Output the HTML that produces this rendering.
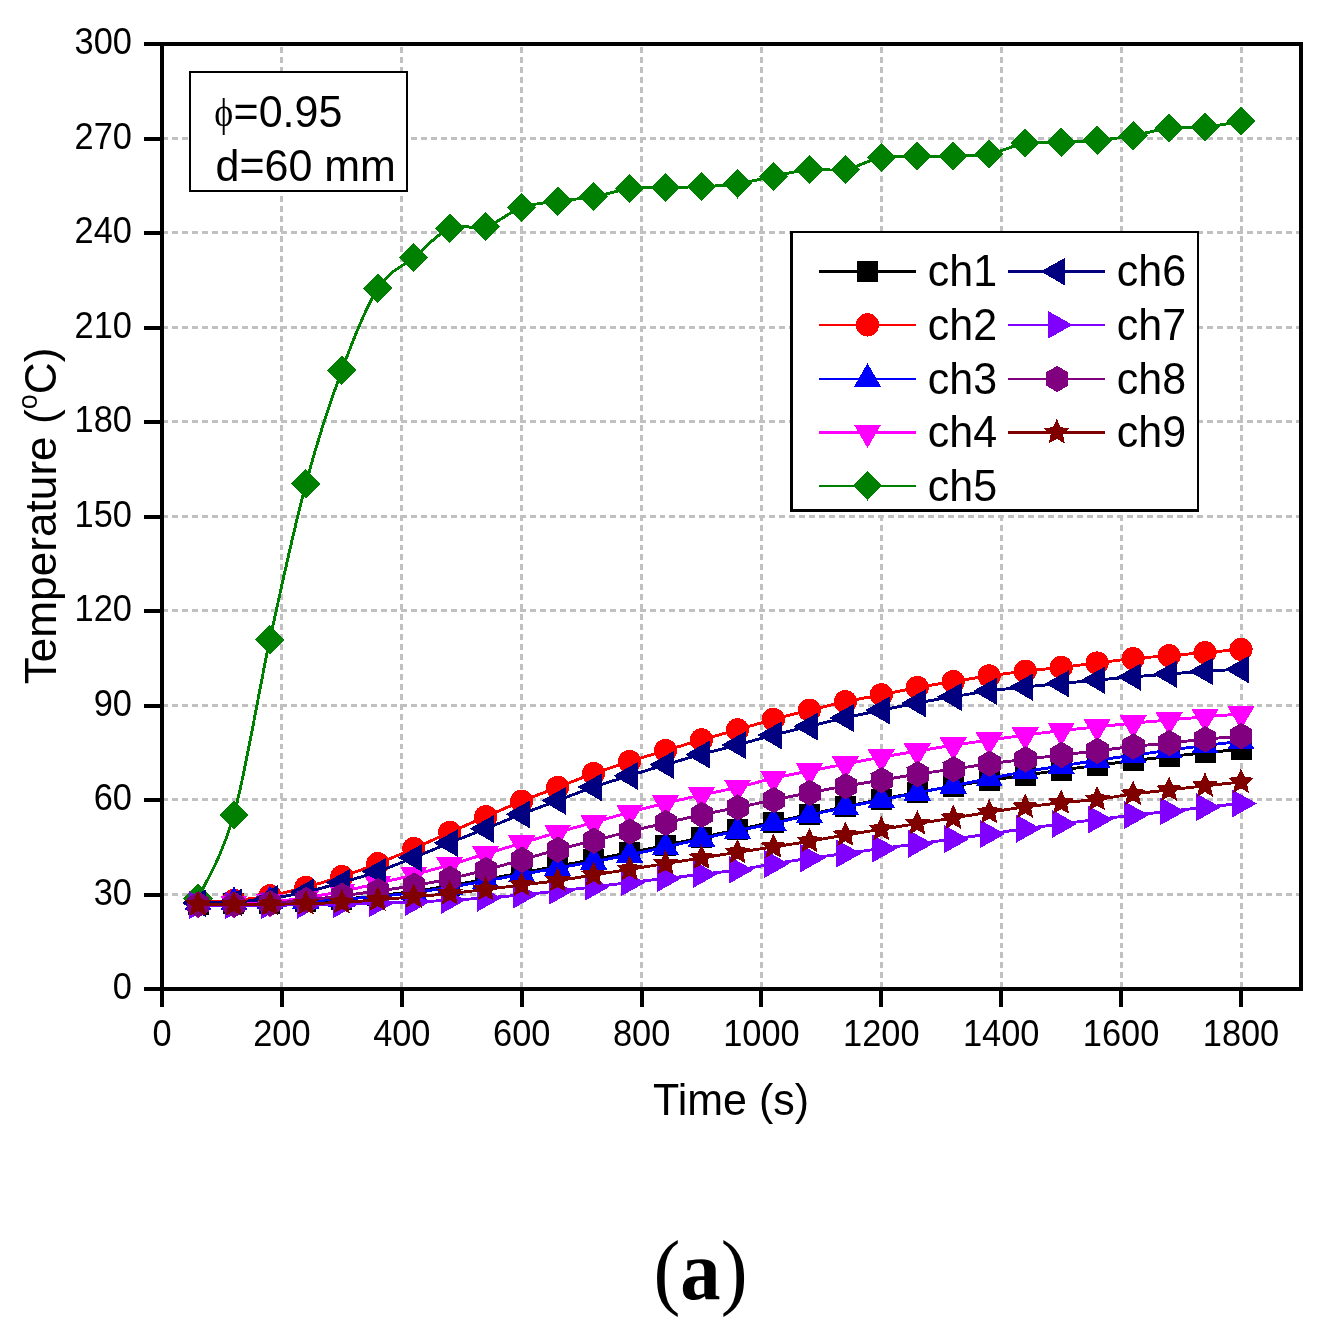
<!DOCTYPE html>
<html lang="en"><head><meta charset="utf-8"><title>Temperature vs Time (a)</title>
<style>
html,body{margin:0;padding:0;background:#fff;}
body{width:1328px;height:1332px;overflow:hidden;}
svg{display:block;will-change:transform;}
text{font-family:"Liberation Sans",Arial,Helvetica,sans-serif;fill:#000;}
.cap{font-family:"Liberation Serif","Times New Roman",serif;}
</style></head><body>
<svg width="1328" height="1332" viewBox="0 0 1328 1332">
<rect width="1328" height="1332" fill="#fff"/>
<g stroke="#c0c0c0" stroke-width="3" stroke-dasharray="5.95 4" fill="none" shape-rendering="crispEdges"><line x1="281.9" y1="989" x2="281.9" y2="44" stroke-dashoffset="-0.75"/><line x1="401.8" y1="989" x2="401.8" y2="44" stroke-dashoffset="-0.75"/><line x1="521.7" y1="989" x2="521.7" y2="44" stroke-dashoffset="-0.75"/><line x1="641.6" y1="989" x2="641.6" y2="44" stroke-dashoffset="-0.75"/><line x1="761.4" y1="989" x2="761.4" y2="44" stroke-dashoffset="-0.75"/><line x1="881.3" y1="989" x2="881.3" y2="44" stroke-dashoffset="-0.75"/><line x1="1001.2" y1="989" x2="1001.2" y2="44" stroke-dashoffset="-0.75"/><line x1="1121.1" y1="989" x2="1121.1" y2="44" stroke-dashoffset="-0.75"/><line x1="1241" y1="989" x2="1241" y2="44" stroke-dashoffset="-0.75"/><line x1="162" y1="894.5" x2="1301" y2="894.5"/><line x1="162" y1="799.5" x2="1301" y2="799.5"/><line x1="162" y1="705.5" x2="1301" y2="705.5"/><line x1="162" y1="610.5" x2="1301" y2="610.5"/><line x1="162" y1="516.5" x2="1301" y2="516.5"/><line x1="162" y1="421.5" x2="1301" y2="421.5"/><line x1="162" y1="327.5" x2="1301" y2="327.5"/><line x1="162" y1="232.5" x2="1301" y2="232.5"/><line x1="162" y1="138.5" x2="1301" y2="138.5"/></g>
<g fill="#000000" stroke="none" shape-rendering="crispEdges"><path d="M198,904C204,903.9 221.9,903.8 233.9,903.6C245.9,903.5 257.9,903.4 269.9,903C281.9,902.6 293.9,902.1 305.9,901.4C317.9,900.8 329.8,900.2 341.8,899.2C353.8,898.3 365.8,897.1 377.8,895.8C389.8,894.4 401.8,893 413.8,891.4C425.8,889.7 437.7,887.7 449.7,885.7C461.7,883.7 473.7,881.5 485.7,879.4C497.7,877.2 509.7,875 521.7,872.8C533.7,870.6 545.6,868.4 557.6,866.1C569.6,863.9 581.6,861.8 593.6,859.5C605.6,857.3 617.6,855 629.6,852.6C641.6,850.2 653.5,847.9 665.5,845.4C677.5,842.8 689.5,840.1 701.5,837.5C713.5,834.9 725.5,832.2 737.5,829.6C749.5,827 761.4,824.6 773.4,822C785.4,819.5 797.4,817.1 809.4,814.5C821.4,811.9 833.4,809.1 845.4,806.6C857.4,804.1 869.3,801.7 881.3,799.4C893.3,797 905.3,794.6 917.3,792.4C929.3,790.2 941.3,788.1 953.3,786.1C965.3,784.1 977.2,782.3 989.2,780.5C1001.2,778.6 1013.2,776.8 1025.2,775.1C1037.2,773.4 1049.2,771.7 1061.2,770.1C1073.2,768.4 1085.1,766.9 1097.1,765.4C1109.1,763.8 1121.1,762.1 1133.1,760.6C1145.1,759.2 1157.1,757.8 1169.1,756.5C1181.1,755.2 1193,754 1205,752.8C1217,751.5 1235,749.9 1241,749.3" fill="none" stroke="#000000" stroke-width="2.9"/>
<rect x="187.5" y="893.5" width="21" height="21"/><rect x="223.4" y="893.1" width="21" height="21"/><rect x="259.4" y="892.5" width="21" height="21"/><rect x="295.4" y="890.9" width="21" height="21"/><rect x="331.3" y="888.7" width="21" height="21"/><rect x="367.3" y="885.3" width="21" height="21"/><rect x="403.3" y="880.9" width="21" height="21"/><rect x="439.2" y="875.2" width="21" height="21"/><rect x="475.2" y="868.9" width="21" height="21"/><rect x="511.2" y="862.3" width="21" height="21"/><rect x="547.1" y="855.6" width="21" height="21"/><rect x="583.1" y="849" width="21" height="21"/><rect x="619.1" y="842.1" width="21" height="21"/><rect x="655" y="834.9" width="21" height="21"/><rect x="691" y="827" width="21" height="21"/><rect x="727" y="819.1" width="21" height="21"/><rect x="762.9" y="811.5" width="21" height="21"/><rect x="798.9" y="804" width="21" height="21"/><rect x="834.9" y="796.1" width="21" height="21"/><rect x="870.8" y="788.9" width="21" height="21"/><rect x="906.8" y="781.9" width="21" height="21"/><rect x="942.8" y="775.6" width="21" height="21"/><rect x="978.7" y="770" width="21" height="21"/><rect x="1014.7" y="764.6" width="21" height="21"/><rect x="1050.7" y="759.6" width="21" height="21"/><rect x="1086.6" y="754.9" width="21" height="21"/><rect x="1122.6" y="750.1" width="21" height="21"/><rect x="1158.6" y="746" width="21" height="21"/><rect x="1194.5" y="742.2" width="21" height="21"/><rect x="1230.5" y="738.8" width="21" height="21"/>
</g>
<g fill="#ff0000" stroke="none" shape-rendering="crispEdges"><path d="M198,902.4C204,902.1 221.9,901.6 233.9,900.5C245.9,899.4 257.9,898 269.9,895.8C281.9,893.6 293.9,890.5 305.9,887.3C317.9,884.1 329.8,880.5 341.8,876.5C353.8,872.6 365.8,868.3 377.8,863.6C389.8,859 401.8,853.7 413.8,848.5C425.8,843.3 437.7,837.7 449.7,832.4C461.7,827.1 473.7,821.9 485.7,816.7C497.7,811.5 509.7,806.1 521.7,801.3C533.7,796.4 545.6,792 557.6,787.4C569.6,782.8 581.6,777.8 593.6,773.5C605.6,769.2 617.6,765.4 629.6,761.6C641.6,757.7 653.5,754.2 665.5,750.5C677.5,746.9 689.5,743.3 701.5,739.8C713.5,736.4 725.5,733.2 737.5,729.8C749.5,726.3 761.4,722.6 773.4,719.4C785.4,716.1 797.4,713.2 809.4,710.2C821.4,707.3 833.4,704.3 845.4,701.7C857.4,699.1 869.3,697.2 881.3,694.8C893.3,692.4 905.3,689.8 917.3,687.5C929.3,685.3 941.3,683.5 953.3,681.6C965.3,679.6 977.2,677.6 989.2,675.9C1001.2,674.2 1013.2,672.6 1025.2,671.2C1037.2,669.7 1049.2,668.8 1061.2,667.4C1073.2,666 1085.1,664.4 1097.1,663C1109.1,661.5 1121.1,659.8 1133.1,658.6C1145.1,657.4 1157.1,656.7 1169.1,655.7C1181.1,654.7 1193,653.6 1205,652.6C1217,651.5 1235,650 1241,649.4" fill="none" stroke="#ff0000" stroke-width="2.9"/>
<circle cx="198" cy="902.4" r="11.6"/><circle cx="233.9" cy="900.5" r="11.6"/><circle cx="269.9" cy="895.8" r="11.6"/><circle cx="305.9" cy="887.3" r="11.6"/><circle cx="341.8" cy="876.5" r="11.6"/><circle cx="377.8" cy="863.6" r="11.6"/><circle cx="413.8" cy="848.5" r="11.6"/><circle cx="449.7" cy="832.4" r="11.6"/><circle cx="485.7" cy="816.7" r="11.6"/><circle cx="521.7" cy="801.3" r="11.6"/><circle cx="557.6" cy="787.4" r="11.6"/><circle cx="593.6" cy="773.5" r="11.6"/><circle cx="629.6" cy="761.6" r="11.6"/><circle cx="665.5" cy="750.5" r="11.6"/><circle cx="701.5" cy="739.8" r="11.6"/><circle cx="737.5" cy="729.8" r="11.6"/><circle cx="773.4" cy="719.4" r="11.6"/><circle cx="809.4" cy="710.2" r="11.6"/><circle cx="845.4" cy="701.7" r="11.6"/><circle cx="881.3" cy="694.8" r="11.6"/><circle cx="917.3" cy="687.5" r="11.6"/><circle cx="953.3" cy="681.6" r="11.6"/><circle cx="989.2" cy="675.9" r="11.6"/><circle cx="1025.2" cy="671.2" r="11.6"/><circle cx="1061.2" cy="667.4" r="11.6"/><circle cx="1097.1" cy="663" r="11.6"/><circle cx="1133.1" cy="658.6" r="11.6"/><circle cx="1169.1" cy="655.7" r="11.6"/><circle cx="1205" cy="652.6" r="11.6"/><circle cx="1241" cy="649.4" r="11.6"/>
</g>
<g fill="#0000ff" stroke="none" shape-rendering="crispEdges"><path d="M198,902.4C204,902.3 221.9,902.2 233.9,902.1C245.9,901.9 257.9,901.6 269.9,901.4C281.9,901.2 293.9,901.2 305.9,900.8C317.9,900.4 329.8,900 341.8,899.2C353.8,898.5 365.8,897.5 377.8,896.4C389.8,895.3 401.8,894.1 413.8,892.6C425.8,891.1 437.7,889.2 449.7,887.3C461.7,885.3 473.7,883.1 485.7,881C497.7,878.8 509.7,876.5 521.7,874.3C533.7,872.2 545.6,870.1 557.6,868C569.6,865.9 581.6,863.9 593.6,861.7C605.6,859.5 617.6,857.2 629.6,854.8C641.6,852.4 653.5,849.9 665.5,847.2C677.5,844.6 689.5,841.5 701.5,838.7C713.5,836 725.5,833.4 737.5,830.9C749.5,828.3 761.4,825.9 773.4,823.3C785.4,820.7 797.4,817.8 809.4,815.1C821.4,812.4 833.4,809.8 845.4,807.2C857.4,804.7 869.3,802.4 881.3,800C893.3,797.6 905.3,795.1 917.3,792.8C929.3,790.4 941.3,788.2 953.3,785.8C965.3,783.5 977.2,780.9 989.2,778.6C1001.2,776.2 1013.2,773.8 1025.2,771.6C1037.2,769.5 1049.2,767.9 1061.2,766C1073.2,764.1 1085.1,762.1 1097.1,760.3C1109.1,758.5 1121.1,756.9 1133.1,755.3C1145.1,753.6 1157.1,751.9 1169.1,750.2C1181.1,748.6 1193,747 1205,745.5C1217,744 1235,742.1 1241,741.4" fill="none" stroke="#0000ff" stroke-width="2.9"/>
<polygon points="198,886.7 211.6,910.2 184.4,910.2"/><polygon points="233.9,886.4 247.5,909.9 220.3,909.9"/><polygon points="269.9,885.7 283.5,909.2 256.3,909.2"/><polygon points="305.9,885.1 319.5,908.6 292.3,908.6"/><polygon points="341.8,883.5 355.4,907 328.2,907"/><polygon points="377.8,880.7 391.4,904.2 364.2,904.2"/><polygon points="413.8,876.9 427.4,900.4 400.2,900.4"/><polygon points="449.7,871.6 463.3,895.1 436.1,895.1"/><polygon points="485.7,865.3 499.3,888.8 472.1,888.8"/><polygon points="521.7,858.6 535.3,882.1 508.1,882.1"/><polygon points="557.6,852.3 571.2,875.8 544,875.8"/><polygon points="593.6,846 607.2,869.5 580,869.5"/><polygon points="629.6,839.1 643.2,862.6 616,862.6"/><polygon points="665.5,831.5 679.1,855 651.9,855"/><polygon points="701.5,823 715.1,846.5 687.9,846.5"/><polygon points="737.5,815.2 751.1,838.7 723.9,838.7"/><polygon points="773.4,807.6 787,831.1 759.8,831.1"/><polygon points="809.4,799.4 823,822.9 795.8,822.9"/><polygon points="845.4,791.5 859,815 831.8,815"/><polygon points="881.3,784.3 894.9,807.8 867.7,807.8"/><polygon points="917.3,777.1 930.9,800.6 903.7,800.6"/><polygon points="953.3,770.1 966.9,793.6 939.7,793.6"/><polygon points="989.2,762.9 1002.8,786.4 975.6,786.4"/><polygon points="1025.2,755.9 1038.8,779.4 1011.6,779.4"/><polygon points="1061.2,750.3 1074.8,773.8 1047.6,773.8"/><polygon points="1097.1,744.6 1110.7,768.1 1083.5,768.1"/><polygon points="1133.1,739.6 1146.7,763.1 1119.5,763.1"/><polygon points="1169.1,734.5 1182.7,758 1155.5,758"/><polygon points="1205,729.8 1218.6,753.3 1191.4,753.3"/><polygon points="1241,725.7 1254.6,749.2 1227.4,749.2"/>
</g>
<g fill="#ff00ff" stroke="none" shape-rendering="crispEdges"><path d="M198,903.3C204,903.3 221.9,903.5 233.9,903.3C245.9,903.1 257.9,903 269.9,902.1C281.9,901.1 293.9,899.4 305.9,897.6C317.9,895.9 329.8,893.7 341.8,891.4C353.8,889 365.8,886.3 377.8,883.5C389.8,880.7 401.8,877.8 413.8,874.7C425.8,871.6 437.7,868.4 449.7,864.9C461.7,861.4 473.7,857.5 485.7,853.9C497.7,850.2 509.7,846.7 521.7,843.2C533.7,839.6 545.6,835.9 557.6,832.4C569.6,829 581.6,825.7 593.6,822.4C605.6,819 617.6,815.5 629.6,812.3C641.6,809.1 653.5,806 665.5,803.1C677.5,800.3 689.5,797.6 701.5,795C713.5,792.3 725.5,790.2 737.5,787.4C749.5,784.6 761.4,781 773.4,778.3C785.4,775.5 797.4,773.4 809.4,771C821.4,768.7 833.4,766.4 845.4,764.1C857.4,761.8 869.3,759.3 881.3,757.2C893.3,755 905.3,753.2 917.3,751.2C929.3,749.2 941.3,747 953.3,745.2C965.3,743.4 977.2,741.8 989.2,740.1C1001.2,738.5 1013.2,736.7 1025.2,735.1C1037.2,733.5 1049.2,732.1 1061.2,730.7C1073.2,729.3 1085.1,728.2 1097.1,726.9C1109.1,725.7 1121.1,724.3 1133.1,723.1C1145.1,722 1157.1,721 1169.1,720C1181.1,718.9 1193,717.8 1205,716.8C1217,715.8 1235,714.5 1241,714" fill="none" stroke="#ff00ff" stroke-width="2.9"/>
<polygon points="198,919 211.6,895.5 184.4,895.5"/><polygon points="233.9,919 247.5,895.5 220.3,895.5"/><polygon points="269.9,917.8 283.5,894.3 256.3,894.3"/><polygon points="305.9,913.4 319.5,889.9 292.3,889.9"/><polygon points="341.8,907.1 355.4,883.6 328.2,883.6"/><polygon points="377.8,899.2 391.4,875.7 364.2,875.7"/><polygon points="413.8,890.4 427.4,866.9 400.2,866.9"/><polygon points="449.7,880.6 463.3,857.1 436.1,857.1"/><polygon points="485.7,869.6 499.3,846.1 472.1,846.1"/><polygon points="521.7,858.9 535.3,835.4 508.1,835.4"/><polygon points="557.6,848.1 571.2,824.6 544,824.6"/><polygon points="593.6,838.1 607.2,814.6 580,814.6"/><polygon points="629.6,828 643.2,804.5 616,804.5"/><polygon points="665.5,818.9 679.1,795.4 651.9,795.4"/><polygon points="701.5,810.7 715.1,787.2 687.9,787.2"/><polygon points="737.5,803.1 751.1,779.6 723.9,779.6"/><polygon points="773.4,794 787,770.5 759.8,770.5"/><polygon points="809.4,786.7 823,763.2 795.8,763.2"/><polygon points="845.4,779.8 859,756.3 831.8,756.3"/><polygon points="881.3,772.9 894.9,749.4 867.7,749.4"/><polygon points="917.3,766.9 930.9,743.4 903.7,743.4"/><polygon points="953.3,760.9 966.9,737.4 939.7,737.4"/><polygon points="989.2,755.9 1002.8,732.4 975.6,732.4"/><polygon points="1025.2,750.8 1038.8,727.3 1011.6,727.3"/><polygon points="1061.2,746.4 1074.8,722.9 1047.6,722.9"/><polygon points="1097.1,742.6 1110.7,719.1 1083.5,719.1"/><polygon points="1133.1,738.8 1146.7,715.3 1119.5,715.3"/><polygon points="1169.1,735.7 1182.7,712.2 1155.5,712.2"/><polygon points="1205,732.5 1218.6,709 1191.4,709"/><polygon points="1241,729.7 1254.6,706.2 1227.4,706.2"/>
</g>
<g fill="#008000" stroke="none" shape-rendering="crispEdges"><path d="M198,898.6C204,884.6 221.9,858 233.9,814.8C245.9,771.7 257.9,694.8 269.9,639.7C281.9,584.5 293.9,528.6 305.9,483.7C317.9,438.9 329.8,402.9 341.8,370.3C353.8,337.8 365.8,307.2 377.8,288.4C389.8,269.6 401.8,267.6 413.8,257.6C425.8,247.5 437.7,233.4 449.7,228.3C461.7,223.1 473.7,230.2 485.7,226.7C497.7,223.2 509.7,211.7 521.7,207.5C533.7,203.2 545.6,203 557.6,201.2C569.6,199.4 581.6,198.9 593.6,196.8C605.6,194.7 617.6,190.2 629.6,188.6C641.6,187 653.5,187.6 665.5,187.3C677.5,187 689.5,187.3 701.5,186.7C713.5,186.1 725.5,185.6 737.5,183.9C749.5,182.1 761.4,178.7 773.4,176.3C785.4,173.9 797.4,170.8 809.4,169.7C821.4,168.5 833.4,171.4 845.4,169.4C857.4,167.3 869.3,159.6 881.3,157.4C893.3,155.2 905.3,156.4 917.3,156.1C929.3,155.9 941.3,156.5 953.3,156.1C965.3,155.8 977.2,156.1 989.2,153.9C1001.2,151.8 1013.2,145.2 1025.2,143.2C1037.2,141.3 1049.2,142.8 1061.2,142.3C1073.2,141.8 1085.1,141.5 1097.1,140.4C1109.1,139.3 1121.1,137.7 1133.1,135.7C1145.1,133.6 1157.1,129.5 1169.1,128.1C1181.1,126.7 1193,128.3 1205,127.2C1217,126 1235,122.2 1241,121.2" fill="none" stroke="#008000" stroke-width="2.9"/>
<polygon points="198,884 212.6,898.6 198,913.2 183.4,898.6"/><polygon points="233.9,800.2 248.5,814.8 233.9,829.4 219.3,814.8"/><polygon points="269.9,625.1 284.5,639.7 269.9,654.3 255.3,639.7"/><polygon points="305.9,469.1 320.5,483.7 305.9,498.3 291.3,483.7"/><polygon points="341.8,355.7 356.4,370.3 341.8,384.9 327.2,370.3"/><polygon points="377.8,273.8 392.4,288.4 377.8,303 363.2,288.4"/><polygon points="413.8,243 428.4,257.6 413.8,272.2 399.2,257.6"/><polygon points="449.7,213.7 464.3,228.3 449.7,242.9 435.1,228.3"/><polygon points="485.7,212.1 500.3,226.7 485.7,241.3 471.1,226.7"/><polygon points="521.7,192.9 536.3,207.5 521.7,222.1 507.1,207.5"/><polygon points="557.6,186.6 572.2,201.2 557.6,215.8 543,201.2"/><polygon points="593.6,182.2 608.2,196.8 593.6,211.4 579,196.8"/><polygon points="629.6,174 644.2,188.6 629.6,203.2 615,188.6"/><polygon points="665.5,172.7 680.1,187.3 665.5,201.9 650.9,187.3"/><polygon points="701.5,172.1 716.1,186.7 701.5,201.3 686.9,186.7"/><polygon points="737.5,169.3 752.1,183.9 737.5,198.5 722.9,183.9"/><polygon points="773.4,161.7 788,176.3 773.4,190.9 758.8,176.3"/><polygon points="809.4,155.1 824,169.7 809.4,184.3 794.8,169.7"/><polygon points="845.4,154.8 860,169.4 845.4,184 830.8,169.4"/><polygon points="881.3,142.8 895.9,157.4 881.3,172 866.7,157.4"/><polygon points="917.3,141.5 931.9,156.1 917.3,170.7 902.7,156.1"/><polygon points="953.3,141.5 967.9,156.1 953.3,170.7 938.7,156.1"/><polygon points="989.2,139.3 1003.8,153.9 989.2,168.5 974.6,153.9"/><polygon points="1025.2,128.6 1039.8,143.2 1025.2,157.8 1010.6,143.2"/><polygon points="1061.2,127.7 1075.8,142.3 1061.2,156.9 1046.6,142.3"/><polygon points="1097.1,125.8 1111.7,140.4 1097.1,155 1082.5,140.4"/><polygon points="1133.1,121.1 1147.7,135.7 1133.1,150.3 1118.5,135.7"/><polygon points="1169.1,113.5 1183.7,128.1 1169.1,142.7 1154.5,128.1"/><polygon points="1205,112.6 1219.6,127.2 1205,141.8 1190.4,127.2"/><polygon points="1241,106.6 1255.6,121.2 1241,135.8 1226.4,121.2"/>
</g>
<g fill="#000080" stroke="none" shape-rendering="crispEdges"><path d="M198,903C204,902.8 221.9,902.8 233.9,902.1C245.9,901.3 257.9,900.3 269.9,898.6C281.9,896.9 293.9,894.7 305.9,892C317.9,889.3 329.8,885.9 341.8,882.5C353.8,879.1 365.8,875.7 377.8,871.5C389.8,867.4 401.8,862.4 413.8,857.6C425.8,852.9 437.7,847.7 449.7,842.8C461.7,838 473.7,833.4 485.7,828.7C497.7,823.9 509.7,818.8 521.7,814.2C533.7,809.5 545.6,805.1 557.6,800.6C569.6,796.1 581.6,791.2 593.6,787.1C605.6,782.9 617.6,779.5 629.6,775.7C641.6,772 653.5,768.3 665.5,764.7C677.5,761.2 689.5,757.6 701.5,754.3C713.5,751 725.5,748.1 737.5,744.9C749.5,741.7 761.4,738.2 773.4,735.1C785.4,732 797.4,729.2 809.4,726.3C821.4,723.4 833.4,720.5 845.4,717.8C857.4,715.1 869.3,712.7 881.3,710.2C893.3,707.8 905.3,705.2 917.3,703C929.3,700.7 941.3,698.7 953.3,696.7C965.3,694.7 977.2,692.6 989.2,691C1001.2,689.4 1013.2,688.2 1025.2,686.9C1037.2,685.7 1049.2,684.6 1061.2,683.5C1073.2,682.3 1085.1,681.1 1097.1,680C1109.1,678.9 1121.1,677.8 1133.1,676.8C1145.1,675.8 1157.1,674.9 1169.1,674C1181.1,673.1 1193,672 1205,671.2C1217,670.4 1235,669.6 1241,669.3" fill="none" stroke="#000080" stroke-width="2.9"/>
<polygon points="181.8,903 206.2,889.4 206.2,917.2"/><polygon points="217.7,902.1 242.1,888.5 242.1,916.3"/><polygon points="253.7,898.6 278.1,885 278.1,912.8"/><polygon points="289.7,892 314.1,878.4 314.1,906.2"/><polygon points="325.6,882.5 350,868.9 350,896.7"/><polygon points="361.6,871.5 386,857.9 386,885.7"/><polygon points="397.6,857.6 422,844 422,871.8"/><polygon points="433.5,842.8 457.9,829.2 457.9,857"/><polygon points="469.5,828.7 493.9,815.1 493.9,842.9"/><polygon points="505.5,814.2 529.9,800.6 529.9,828.4"/><polygon points="541.4,800.6 565.8,787 565.8,814.8"/><polygon points="577.4,787.1 601.8,773.5 601.8,801.3"/><polygon points="613.4,775.7 637.8,762.1 637.8,789.9"/><polygon points="649.3,764.7 673.7,751.1 673.7,778.9"/><polygon points="685.3,754.3 709.7,740.7 709.7,768.5"/><polygon points="721.3,744.9 745.7,731.3 745.7,759.1"/><polygon points="757.2,735.1 781.6,721.5 781.6,749.3"/><polygon points="793.2,726.3 817.6,712.7 817.6,740.5"/><polygon points="829.2,717.8 853.6,704.2 853.6,732"/><polygon points="865.1,710.2 889.5,696.6 889.5,724.4"/><polygon points="901.1,703 925.5,689.4 925.5,717.2"/><polygon points="937.1,696.7 961.5,683.1 961.5,710.9"/><polygon points="973,691 997.4,677.4 997.4,705.2"/><polygon points="1009,686.9 1033.4,673.3 1033.4,701.1"/><polygon points="1045,683.5 1069.4,669.9 1069.4,697.7"/><polygon points="1080.9,680 1105.3,666.4 1105.3,694.2"/><polygon points="1116.9,676.8 1141.3,663.2 1141.3,691"/><polygon points="1152.9,674 1177.3,660.4 1177.3,688.2"/><polygon points="1188.8,671.2 1213.2,657.6 1213.2,685.4"/><polygon points="1224.8,669.3 1249.2,655.7 1249.2,683.5"/>
</g>
<g fill="#8000ff" stroke="none" shape-rendering="crispEdges"><path d="M198,905.2C204,905.2 221.9,905.2 233.9,905.2C245.9,905.2 257.9,905.3 269.9,905.2C281.9,905.2 293.9,905.1 305.9,904.9C317.9,904.7 329.8,904.5 341.8,904.3C353.8,904 365.8,903.7 377.8,903.3C389.8,903 401.8,902.6 413.8,902.1C425.8,901.5 437.7,900.9 449.7,900.2C461.7,899.5 473.7,898.9 485.7,898C497.7,897.1 509.7,896 521.7,894.8C533.7,893.7 545.6,892.3 557.6,891C569.6,889.7 581.6,888.4 593.6,886.9C605.6,885.5 617.6,883.9 629.6,882.5C641.6,881.1 653.5,879.8 665.5,878.4C677.5,877.1 689.5,875.8 701.5,874.3C713.5,872.9 725.5,871.7 737.5,869.9C749.5,868.2 761.4,865.9 773.4,863.9C785.4,862 797.4,860 809.4,858.3C821.4,856.5 833.4,855.2 845.4,853.5C857.4,851.9 869.3,850.1 881.3,848.5C893.3,846.9 905.3,845.4 917.3,843.8C929.3,842.2 941.3,840.7 953.3,839.1C965.3,837.4 977.2,835.8 989.2,834C1001.2,832.3 1013.2,830.3 1025.2,828.7C1037.2,827 1049.2,825.5 1061.2,823.9C1073.2,822.4 1085.1,821 1097.1,819.5C1109.1,818.1 1121.1,816.5 1133.1,815.1C1145.1,813.8 1157.1,812.7 1169.1,811.3C1181.1,810 1193,808.6 1205,807.2C1217,805.9 1235,804.1 1241,803.5" fill="none" stroke="#8000ff" stroke-width="2.9"/>
<polygon points="213.9,905.2 189,891.2 189,919.2"/><polygon points="249.8,905.2 224.9,891.2 224.9,919.2"/><polygon points="285.8,905.2 260.9,891.2 260.9,919.2"/><polygon points="321.8,904.9 296.9,890.9 296.9,918.9"/><polygon points="357.7,904.3 332.8,890.3 332.8,918.3"/><polygon points="393.7,903.3 368.8,889.3 368.8,917.3"/><polygon points="429.7,902.1 404.8,888.1 404.8,916.1"/><polygon points="465.6,900.2 440.7,886.2 440.7,914.2"/><polygon points="501.6,898 476.7,884 476.7,912"/><polygon points="537.6,894.8 512.7,880.8 512.7,908.8"/><polygon points="573.5,891 548.6,877 548.6,905"/><polygon points="609.5,886.9 584.6,872.9 584.6,900.9"/><polygon points="645.5,882.5 620.6,868.5 620.6,896.5"/><polygon points="681.4,878.4 656.5,864.4 656.5,892.4"/><polygon points="717.4,874.3 692.5,860.3 692.5,888.3"/><polygon points="753.4,869.9 728.5,855.9 728.5,883.9"/><polygon points="789.3,863.9 764.4,849.9 764.4,877.9"/><polygon points="825.3,858.3 800.4,844.3 800.4,872.3"/><polygon points="861.3,853.5 836.4,839.5 836.4,867.5"/><polygon points="897.2,848.5 872.3,834.5 872.3,862.5"/><polygon points="933.2,843.8 908.3,829.8 908.3,857.8"/><polygon points="969.2,839.1 944.3,825.1 944.3,853.1"/><polygon points="1005.1,834 980.2,820 980.2,848"/><polygon points="1041.1,828.7 1016.2,814.7 1016.2,842.7"/><polygon points="1077.1,823.9 1052.2,809.9 1052.2,837.9"/><polygon points="1113,819.5 1088.1,805.5 1088.1,833.5"/><polygon points="1149,815.1 1124.1,801.1 1124.1,829.1"/><polygon points="1185,811.3 1160.1,797.3 1160.1,825.3"/><polygon points="1220.9,807.2 1196,793.2 1196,821.2"/><polygon points="1256.9,803.5 1232,789.5 1232,817.5"/>
</g>
<g fill="#800080" stroke="none" shape-rendering="crispEdges"><path d="M198,904.6C204,904.6 221.9,904.8 233.9,904.6C245.9,904.4 257.9,904.1 269.9,903.3C281.9,902.6 293.9,901.4 305.9,900.2C317.9,898.9 329.8,897.3 341.8,895.8C353.8,894.2 365.8,892.7 377.8,891C389.8,889.4 401.8,887.7 413.8,885.7C425.8,883.6 437.7,881.4 449.7,878.8C461.7,876.1 473.7,873.1 485.7,869.9C497.7,866.8 509.7,863.2 521.7,859.9C533.7,856.5 545.6,853 557.6,849.8C569.6,846.6 581.6,843.7 593.6,840.6C605.6,837.6 617.6,834.4 629.6,831.5C641.6,828.6 653.5,825.8 665.5,823C677.5,820.2 689.5,817.4 701.5,814.8C713.5,812.2 725.5,810 737.5,807.6C749.5,805.1 761.4,802.5 773.4,800C785.4,797.5 797.4,795.1 809.4,792.8C821.4,790.4 833.4,788.2 845.4,786.1C857.4,784 869.3,782.1 881.3,780.2C893.3,778.2 905.3,776 917.3,774.2C929.3,772.3 941.3,770.9 953.3,769.1C965.3,767.4 977.2,765.4 989.2,763.8C1001.2,762.1 1013.2,760.8 1025.2,759.4C1037.2,757.9 1049.2,756.4 1061.2,755C1073.2,753.5 1085.1,752.3 1097.1,750.9C1109.1,749.4 1121.1,747.8 1133.1,746.5C1145.1,745.1 1157.1,744.2 1169.1,743C1181.1,741.8 1193,740.4 1205,739.2C1217,738.1 1235,736.6 1241,736.1" fill="none" stroke="#800080" stroke-width="2.9"/>
<polygon points="198.3,891.3 209.4,898 209.4,911.2 198.3,917.8 187.2,911.2 187.2,898"/><polygon points="234.2,891.3 245.3,898 245.3,911.2 234.2,917.8 223.1,911.2 223.1,898"/><polygon points="270.2,890.1 281.3,896.7 281.3,909.9 270.2,916.6 259.1,909.9 259.1,896.7"/><polygon points="306.2,886.9 317.3,893.5 317.3,906.8 306.2,913.4 295.1,906.8 295.1,893.5"/><polygon points="342.1,882.5 353.2,889.1 353.2,902.4 342.1,909 331,902.4 331,889.1"/><polygon points="378.1,877.8 389.2,884.4 389.2,897.7 378.1,904.3 367,897.7 367,884.4"/><polygon points="414.1,872.4 425.2,879.1 425.2,892.3 414.1,898.9 403,892.3 403,879.1"/><polygon points="450,865.5 461.1,872.1 461.1,885.4 450,892 438.9,885.4 438.9,872.1"/><polygon points="486,856.7 497.1,863.3 497.1,876.6 486,883.2 474.9,876.6 474.9,863.3"/><polygon points="522,846.6 533.1,853.2 533.1,866.5 522,873.1 510.9,866.5 510.9,853.2"/><polygon points="557.9,836.5 569,843.1 569,856.4 557.9,863 546.8,856.4 546.8,843.1"/><polygon points="593.9,827.4 605,834 605,847.3 593.9,853.9 582.8,847.3 582.8,834"/><polygon points="629.9,818.2 641,824.9 641,838.1 629.9,844.8 618.8,838.1 618.8,824.9"/><polygon points="665.8,809.7 676.9,816.4 676.9,829.6 665.8,836.2 654.7,829.6 654.7,816.4"/><polygon points="701.8,801.6 712.9,808.2 712.9,821.4 701.8,828.1 690.7,821.4 690.7,808.2"/><polygon points="737.8,794.3 748.9,800.9 748.9,814.2 737.8,820.8 726.7,814.2 726.7,800.9"/><polygon points="773.7,786.8 784.8,793.4 784.8,806.6 773.7,813.2 762.6,806.6 762.6,793.4"/><polygon points="809.7,779.5 820.8,786.1 820.8,799.4 809.7,806 798.6,799.4 798.6,786.1"/><polygon points="845.7,772.9 856.8,779.5 856.8,792.8 845.7,799.4 834.6,792.8 834.6,779.5"/><polygon points="881.6,766.9 892.7,773.5 892.7,786.8 881.6,793.4 870.5,786.8 870.5,773.5"/><polygon points="917.6,760.9 928.7,767.5 928.7,780.8 917.6,787.4 906.5,780.8 906.5,767.5"/><polygon points="953.6,755.9 964.7,762.5 964.7,775.8 953.6,782.4 942.5,775.8 942.5,762.5"/><polygon points="989.5,750.5 1000.6,757.1 1000.6,770.4 989.5,777 978.4,770.4 978.4,757.1"/><polygon points="1025.5,746.1 1036.6,752.7 1036.6,766 1025.5,772.6 1014.4,766 1014.4,752.7"/><polygon points="1061.5,741.7 1072.6,748.3 1072.6,761.6 1061.5,768.2 1050.4,761.6 1050.4,748.3"/><polygon points="1097.4,737.6 1108.5,744.2 1108.5,757.5 1097.4,764.1 1086.3,757.5 1086.3,744.2"/><polygon points="1133.4,733.2 1144.5,739.8 1144.5,753.1 1133.4,759.7 1122.3,753.1 1122.3,739.8"/><polygon points="1169.4,729.7 1180.5,736.4 1180.5,749.6 1169.4,756.2 1158.3,749.6 1158.3,736.4"/><polygon points="1205.3,726 1216.4,732.6 1216.4,745.8 1205.3,752.5 1194.2,745.8 1194.2,732.6"/><polygon points="1241.3,722.8 1252.4,729.4 1252.4,742.7 1241.3,749.3 1230.2,742.7 1230.2,729.4"/>
</g>
<g fill="#800000" stroke="none" shape-rendering="crispEdges"><path d="M198,904.6C204,904.6 221.9,904.6 233.9,904.6C245.9,904.5 257.9,904.4 269.9,904.3C281.9,904.1 293.9,904 305.9,903.6C317.9,903.3 329.8,903 341.8,902.4C353.8,901.7 365.8,900.8 377.8,899.9C389.8,898.9 401.8,897.8 413.8,896.7C425.8,895.7 437.7,894.8 449.7,893.6C461.7,892.3 473.7,890.9 485.7,889.5C497.7,888 509.7,886.5 521.7,885C533.7,883.6 545.6,882.3 557.6,880.6C569.6,879 581.6,876.9 593.6,875C605.6,873.1 617.6,871.2 629.6,869.3C641.6,867.4 653.5,865.5 665.5,863.6C677.5,861.7 689.5,859.9 701.5,858C713.5,856.1 725.5,854.1 737.5,852.3C749.5,850.5 761.4,848.8 773.4,846.9C785.4,845.1 797.4,843.3 809.4,841.3C821.4,839.3 833.4,837 845.4,835C857.4,833 869.3,831.2 881.3,829.3C893.3,827.4 905.3,825.5 917.3,823.6C929.3,821.7 941.3,819.8 953.3,818C965.3,816.1 977.2,814.1 989.2,812.3C1001.2,810.4 1013.2,808.5 1025.2,806.9C1037.2,805.4 1049.2,804.1 1061.2,802.8C1073.2,801.6 1085.1,800.8 1097.1,799.4C1109.1,797.9 1121.1,795.6 1133.1,794C1145.1,792.4 1157.1,791.3 1169.1,789.9C1181.1,788.6 1193,787.1 1205,785.8C1217,784.5 1235,782.7 1241,782" fill="none" stroke="#800000" stroke-width="2.9"/>
<polygon points="198,891 201.7,899.4 210.9,900.4 204,906.6 206,915.6 198,911 190,915.6 191.9,906.6 185,900.4 194.2,899.4"/><polygon points="233.9,891 237.7,899.4 246.9,900.4 240,906.6 241.9,915.6 233.9,911 225.9,915.6 227.9,906.6 221,900.4 230.2,899.4"/><polygon points="269.9,890.7 273.7,899.1 282.8,900.1 276,906.2 277.9,915.3 269.9,910.7 261.9,915.3 263.8,906.2 257,900.1 266.1,899.1"/><polygon points="305.9,890 309.6,898.5 318.8,899.4 311.9,905.6 313.9,914.6 305.9,910 297.9,914.6 299.8,905.6 292.9,899.4 302.1,898.5"/><polygon points="341.8,888.8 345.6,897.2 354.8,898.2 347.9,904.4 349.8,913.4 341.8,908.8 333.8,913.4 335.8,904.4 328.9,898.2 338.1,897.2"/><polygon points="377.8,886.3 381.6,894.7 390.7,895.7 383.9,901.8 385.8,910.9 377.8,906.2 369.8,910.9 371.7,901.8 364.9,895.7 374,894.7"/><polygon points="413.8,883.1 417.5,891.5 426.7,892.5 419.8,898.7 421.8,907.7 413.8,903.1 405.8,907.7 407.7,898.7 400.8,892.5 410,891.5"/><polygon points="449.7,880 453.5,888.4 462.7,889.4 455.8,895.5 457.7,904.6 449.7,899.9 441.7,904.6 443.7,895.5 436.8,889.4 446,888.4"/><polygon points="485.7,875.9 489.5,884.3 498.6,885.3 491.8,891.4 493.7,900.5 485.7,895.9 477.7,900.5 479.6,891.4 472.8,885.3 481.9,884.3"/><polygon points="521.7,871.4 525.4,879.9 534.6,880.8 527.7,887 529.7,896.1 521.7,891.4 513.7,896.1 515.6,887 508.7,880.8 517.9,879.9"/><polygon points="557.6,867 561.4,875.5 570.6,876.4 563.7,882.6 565.6,891.6 557.6,887 549.6,891.6 551.6,882.6 544.7,876.4 553.9,875.5"/><polygon points="593.6,861.4 597.4,869.8 606.5,870.8 599.7,876.9 601.6,886 593.6,881.4 585.6,886 587.5,876.9 580.7,870.8 589.8,869.8"/><polygon points="629.6,855.7 633.3,864.1 642.5,865.1 635.6,871.3 637.6,880.3 629.6,875.7 621.6,880.3 623.5,871.3 616.6,865.1 625.8,864.1"/><polygon points="665.5,850 669.3,858.5 678.5,859.4 671.6,865.6 673.5,874.6 665.5,870 657.5,874.6 659.5,865.6 652.6,859.4 661.8,858.5"/><polygon points="701.5,844.4 705.3,852.8 714.4,853.8 707.6,859.9 709.5,869 701.5,864.4 693.5,869 695.4,859.9 688.6,853.8 697.7,852.8"/><polygon points="737.5,838.7 741.2,847.1 750.4,848.1 743.5,854.3 745.5,863.3 737.5,858.7 729.5,863.3 731.4,854.3 724.5,848.1 733.7,847.1"/><polygon points="773.4,833.3 777.2,841.8 786.4,842.7 779.5,848.9 781.4,857.9 773.4,853.3 765.4,857.9 767.4,848.9 760.5,842.7 769.7,841.8"/><polygon points="809.4,827.7 813.2,836.1 822.3,837.1 815.5,843.2 817.4,852.3 809.4,847.7 801.4,852.3 803.3,843.2 796.5,837.1 805.6,836.1"/><polygon points="845.4,821.4 849.1,829.8 858.3,830.8 851.4,836.9 853.4,846 845.4,841.4 837.4,846 839.3,836.9 832.4,830.8 841.6,829.8"/><polygon points="881.3,815.7 885.1,824.1 894.3,825.1 887.4,831.3 889.3,840.3 881.3,835.7 873.3,840.3 875.3,831.3 868.4,825.1 877.6,824.1"/><polygon points="917.3,810 921.1,818.5 930.2,819.4 923.4,825.6 925.3,834.6 917.3,830 909.3,834.6 911.2,825.6 904.4,819.4 913.5,818.5"/><polygon points="953.3,804.4 957,812.8 966.2,813.8 959.3,819.9 961.3,829 953.3,824.3 945.3,829 947.2,819.9 940.3,813.8 949.5,812.8"/><polygon points="989.2,798.7 993,807.1 1002.2,808.1 995.3,814.3 997.2,823.3 989.2,818.7 981.2,823.3 983.2,814.3 976.3,808.1 985.5,807.1"/><polygon points="1025.2,793.3 1029,801.8 1038.1,802.7 1031.3,808.9 1033.2,817.9 1025.2,813.3 1017.2,817.9 1019.1,808.9 1012.3,802.7 1021.4,801.8"/><polygon points="1061.2,789.2 1064.9,797.7 1074.1,798.6 1067.2,804.8 1069.2,813.8 1061.2,809.2 1053.2,813.8 1055.1,804.8 1048.2,798.6 1057.4,797.7"/><polygon points="1097.1,785.8 1100.9,794.2 1110.1,795.2 1103.2,801.3 1105.1,810.4 1097.1,805.8 1089.1,810.4 1091.1,801.3 1084.2,795.2 1093.4,794.2"/><polygon points="1133.1,780.4 1136.9,788.8 1146,789.8 1139.2,796 1141.1,805 1133.1,800.4 1125.1,805 1127,796 1120.2,789.8 1129.3,788.8"/><polygon points="1169.1,776.3 1172.8,784.7 1182,785.7 1175.1,791.9 1177.1,800.9 1169.1,796.3 1161.1,800.9 1163,791.9 1156.1,785.7 1165.3,784.7"/><polygon points="1205,772.2 1208.8,780.7 1218,781.6 1211.1,787.8 1213,796.8 1205,792.2 1197,796.8 1199,787.8 1192.1,781.6 1201.3,780.7"/><polygon points="1241,768.4 1244.8,776.9 1253.9,777.8 1247.1,784 1249,793 1241,788.4 1233,793 1234.9,784 1228.1,777.8 1237.2,776.9"/>
</g>
<g stroke="#000" stroke-width="4" fill="none" shape-rendering="crispEdges"><rect x="162" y="44" width="1139" height="945"/><line x1="162" y1="989" x2="162" y2="1007"/><line x1="281.9" y1="989" x2="281.9" y2="1007"/><line x1="401.8" y1="989" x2="401.8" y2="1007"/><line x1="521.7" y1="989" x2="521.7" y2="1007"/><line x1="641.6" y1="989" x2="641.6" y2="1007"/><line x1="761.4" y1="989" x2="761.4" y2="1007"/><line x1="881.3" y1="989" x2="881.3" y2="1007"/><line x1="1001.2" y1="989" x2="1001.2" y2="1007"/><line x1="1121.1" y1="989" x2="1121.1" y2="1007"/><line x1="1241" y1="989" x2="1241" y2="1007"/><line x1="144" y1="989" x2="162" y2="989"/><line x1="144" y1="894.5" x2="162" y2="894.5"/><line x1="144" y1="800" x2="162" y2="800"/><line x1="144" y1="705.5" x2="162" y2="705.5"/><line x1="144" y1="611" x2="162" y2="611"/><line x1="144" y1="516.5" x2="162" y2="516.5"/><line x1="144" y1="422" x2="162" y2="422"/><line x1="144" y1="327.5" x2="162" y2="327.5"/><line x1="144" y1="233" x2="162" y2="233"/><line x1="144" y1="138.5" x2="162" y2="138.5"/><line x1="144" y1="44" x2="162" y2="44"/></g>
<g><text transform="translate(162 1046) scale(0.942 1)" font-size="36.5" text-anchor="middle">0</text><text transform="translate(281.9 1046) scale(0.942 1)" font-size="36.5" text-anchor="middle">200</text><text transform="translate(401.8 1046) scale(0.942 1)" font-size="36.5" text-anchor="middle">400</text><text transform="translate(521.7 1046) scale(0.942 1)" font-size="36.5" text-anchor="middle">600</text><text transform="translate(641.6 1046) scale(0.942 1)" font-size="36.5" text-anchor="middle">800</text><text transform="translate(761.4 1046) scale(0.942 1)" font-size="36.5" text-anchor="middle">1000</text><text transform="translate(881.3 1046) scale(0.942 1)" font-size="36.5" text-anchor="middle">1200</text><text transform="translate(1001.2 1046) scale(0.942 1)" font-size="36.5" text-anchor="middle">1400</text><text transform="translate(1121.1 1046) scale(0.942 1)" font-size="36.5" text-anchor="middle">1600</text><text transform="translate(1241 1046) scale(0.942 1)" font-size="36.5" text-anchor="middle">1800</text><text transform="translate(131.9 999.2) scale(0.942 1)" font-size="36.5" text-anchor="end">0</text><text transform="translate(131.9 904.7) scale(0.942 1)" font-size="36.5" text-anchor="end">30</text><text transform="translate(131.9 810.2) scale(0.942 1)" font-size="36.5" text-anchor="end">60</text><text transform="translate(131.9 715.7) scale(0.942 1)" font-size="36.5" text-anchor="end">90</text><text transform="translate(131.9 621.2) scale(0.942 1)" font-size="36.5" text-anchor="end">120</text><text transform="translate(131.9 526.7) scale(0.942 1)" font-size="36.5" text-anchor="end">150</text><text transform="translate(131.9 432.2) scale(0.942 1)" font-size="36.5" text-anchor="end">180</text><text transform="translate(131.9 337.7) scale(0.942 1)" font-size="36.5" text-anchor="end">210</text><text transform="translate(131.9 243.2) scale(0.942 1)" font-size="36.5" text-anchor="end">240</text><text transform="translate(131.9 148.7) scale(0.942 1)" font-size="36.5" text-anchor="end">270</text><text transform="translate(131.9 54.2) scale(0.942 1)" font-size="36.5" text-anchor="end">300</text></g>
<text transform="translate(731 1114.8) scale(0.9556 1)" font-size="45" text-anchor="middle">Time (s)</text>
<text transform="translate(55.6 516) rotate(-90)" font-size="44.2" text-anchor="middle">Temperature (<tspan font-size="27" dy="-18.8">o</tspan><tspan dy="18.8">C)</tspan></text>
<rect x="190" y="72" width="216.5" height="118.5" fill="#fff" stroke="#000" stroke-width="2" shape-rendering="crispEdges"/>
<text transform="translate(223.8 126.3) scale(0.9 1)" font-size="40" text-anchor="middle" class="cap">&#981;</text>
<text transform="translate(233.6 126.6) scale(0.9556 1)" font-size="45" text-anchor="start">=0.95</text>
<text transform="translate(215.5 180.8) scale(0.9556 1)" font-size="45" text-anchor="start">d=60 mm</text>
<rect x="791.5" y="232" width="406.5" height="278.4" fill="#fff" stroke="#000" stroke-width="2.6" shape-rendering="crispEdges"/>
<g fill="#000000" shape-rendering="crispEdges"><line x1="819" y1="271.4" x2="916" y2="271.4" stroke="#000000" stroke-width="2.7"/><rect x="857" y="260.9" width="21" height="21"/></g>
<text transform="translate(927.8 286) scale(0.9556 1)" font-size="45" text-anchor="start">ch1</text>
<g fill="#ff0000" shape-rendering="crispEdges"><line x1="819" y1="324.9" x2="916" y2="324.9" stroke="#ff0000" stroke-width="2.7"/><circle cx="867.5" cy="324.9" r="11.6"/></g>
<text transform="translate(927.8 339.5) scale(0.9556 1)" font-size="45" text-anchor="start">ch2</text>
<g fill="#0000ff" shape-rendering="crispEdges"><line x1="819" y1="379" x2="916" y2="379" stroke="#0000ff" stroke-width="2.7"/><polygon points="867.5,363.3 881.1,386.8 853.9,386.8"/></g>
<text transform="translate(927.8 393.6) scale(0.9556 1)" font-size="45" text-anchor="start">ch3</text>
<g fill="#ff00ff" shape-rendering="crispEdges"><line x1="819" y1="432.4" x2="916" y2="432.4" stroke="#ff00ff" stroke-width="2.7"/><polygon points="867.5,448.1 881.1,424.6 853.9,424.6"/></g>
<text transform="translate(927.8 447) scale(0.9556 1)" font-size="45" text-anchor="start">ch4</text>
<g fill="#008000" shape-rendering="crispEdges"><line x1="819" y1="485.9" x2="916" y2="485.9" stroke="#008000" stroke-width="2.7"/><polygon points="867.5,471.3 882.1,485.9 867.5,500.5 852.9,485.9"/></g>
<text transform="translate(927.8 500.5) scale(0.9556 1)" font-size="45" text-anchor="start">ch5</text>
<g fill="#000080" shape-rendering="crispEdges"><line x1="1008" y1="271.4" x2="1105" y2="271.4" stroke="#000080" stroke-width="2.7"/><polygon points="1040.6,271.4 1065,257.8 1065,285.6"/></g>
<text transform="translate(1116.8 286) scale(0.9556 1)" font-size="45" text-anchor="start">ch6</text>
<g fill="#8000ff" shape-rendering="crispEdges"><line x1="1008" y1="324.9" x2="1105" y2="324.9" stroke="#8000ff" stroke-width="2.7"/><polygon points="1072.7,324.9 1047.8,310.9 1047.8,338.9"/></g>
<text transform="translate(1116.8 339.5) scale(0.9556 1)" font-size="45" text-anchor="start">ch7</text>
<g fill="#800080" shape-rendering="crispEdges"><line x1="1008" y1="379" x2="1105" y2="379" stroke="#800080" stroke-width="2.7"/><polygon points="1057.1,365.8 1068.2,372.4 1068.2,385.6 1057.1,392.2 1046,385.6 1046,372.4"/></g>
<text transform="translate(1116.8 393.6) scale(0.9556 1)" font-size="45" text-anchor="start">ch8</text>
<g fill="#800000" shape-rendering="crispEdges"><line x1="1008" y1="432.4" x2="1105" y2="432.4" stroke="#800000" stroke-width="2.7"/><polygon points="1056.8,418.8 1060.6,427.2 1069.7,428.2 1062.9,434.4 1064.8,443.4 1056.8,438.8 1048.8,443.4 1050.7,434.4 1043.9,428.2 1053,427.2"/></g>
<text transform="translate(1116.8 447) scale(0.9556 1)" font-size="45" text-anchor="start">ch9</text>
<text transform="translate(700.5 1299.2) scale(0.955 1)" font-size="84.5" text-anchor="middle" class="cap">(<tspan font-weight="bold">a</tspan>)</text>
</svg></body></html>
